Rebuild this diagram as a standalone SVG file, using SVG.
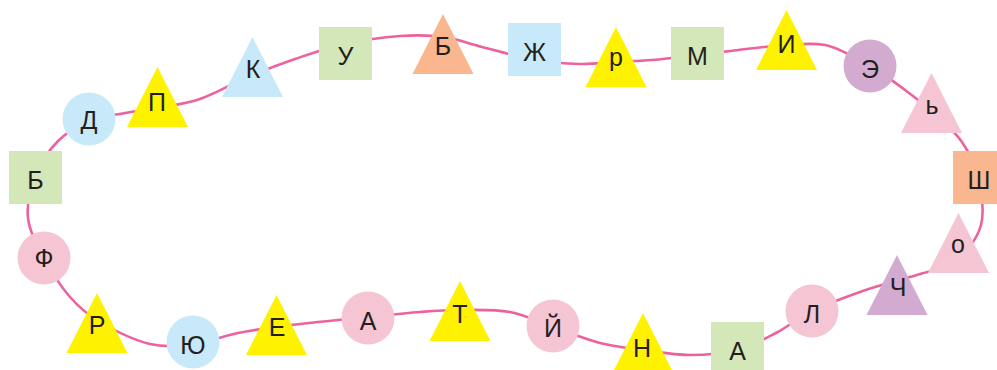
<svg xmlns="http://www.w3.org/2000/svg" width="997" height="370" viewBox="0 0 997 370">
<style>
.g{fill:#D4E7B9}.b{fill:#C8E9F9}.y{fill:#FFF200}.s{fill:#F9B68F}.p{fill:#F5C5D4}.v{fill:#D3ABD0}
text{font-family:"Liberation Sans",Arial,sans-serif;font-size:25px;fill:#231F20;text-anchor:middle}
.line{fill:none;stroke:#EE619F;stroke-width:2.6}
</style>
<rect width="997" height="370" fill="#FFFFFF"/>
<g id="connectors">
<path class="line" d="M35 177 C40 164.2 48.8 150.3 58 141 S78.8 125.7 90 121 S113.8 115.2 125 113 S144.5 110.3 157 108 S184.8 104.2 200 99 S232.2 83.7 248 77 S278.8 64.5 295 59 S327.5 47.8 345 44 S383.5 37.2 400 36 S430.3 35.2 444 37 S466.8 43.2 482 47 S518.7 57.2 535 60 S566.7 63.7 580 64 S603 62.7 615 62 S638.2 61.2 652 60 S682.3 56.8 698 55 S731.2 50.7 746 49 S773.8 45.7 787 45 S811.2 42.5 825 45 S856.7 58.5 870 66 S894 81.8 905 90 S926.5 106.3 936 115 S955 131.7 962 142 S974.8 163.2 978 177 S984.8 210.8 981 225 S965.2 253.8 955 262 S929.8 270.8 920 274 S906 278 896 281 S874 287 860 292 S826 304.2 812 311 S788.5 326.5 776 333 S751.3 346.3 737 350 S705.7 355 690 355 S658 352 643 350 S615 346.8 600 343 S568 332.2 553 327 S525.5 314.8 510 312 S475 310 460 310 S435.3 310.8 420 312 S385 315.3 368 317 S333.3 320.3 318 322 S289.3 325.2 276 327 S251.8 330.2 238 333 S207.7 342.2 193 344 S165.5 347.7 150 344 S113.3 329.8 100 322 S79.3 307.7 70 297 S51 271.2 44 258 S29.5 231.5 28 218 S30 189.8 35 177 Z"/>
</g>
<g id="n1"><rect class="g" x="9" y="151" width="53" height="53"/><text x="35.5" y="189">Б</text></g>
<g id="n2"><circle class="b" cx="89" cy="119" r="26.5"/><text x="89" y="129">Д</text></g>
<g id="n3"><polygon class="y" points="157.5,67 188,127 127,127"/><text x="157" y="111">П</text></g>
<g id="n4"><polygon class="b" points="252.5,37 283,97 222,97"/><text x="253" y="78">К</text></g>
<g id="n5"><rect class="g" x="319" y="27" width="53" height="53"/><text x="345.5" y="65">У</text></g>
<g id="n6"><polygon class="s" points="443,14 473.5,74 412.5,74"/><text x="443" y="55">Б</text></g>
<g id="n7"><rect class="b" x="508" y="23" width="53" height="53"/><text x="534.5" y="61">Ж</text></g>
<g id="n8"><polygon class="y" points="616,27 646.5,87 585.5,87"/><text x="616" y="66">р</text></g>
<g id="n9"><rect class="g" x="671" y="27" width="53" height="53"/><text x="697.5" y="65">М</text></g>
<g id="n10"><polygon class="y" points="786.5,10 817,70 756,70"/><text x="786.5" y="53">И</text></g>
<g id="n11"><circle class="v" cx="870" cy="66" r="26.5"/><text x="870" y="78">Э</text></g>
<g id="n12"><polygon class="p" points="931.5,73 962,133 901,133"/><text x="932" y="114">ь</text></g>
<g id="n13"><rect class="s" x="953" y="151" width="53" height="53"/><text x="979" y="189">Ш</text></g>
<g id="n14"><polygon class="p" points="958.5,213 989,273 928,273"/><text x="958" y="253">о</text></g>
<g id="n15"><polygon class="v" points="897,255 927.5,315 866.5,315"/><text x="898" y="296">Ч</text></g>
<g id="n16"><circle class="p" cx="812" cy="311" r="26.5"/><text x="812" y="323">Л</text></g>
<g id="n17"><rect class="g" x="711" y="322" width="53" height="53"/><text x="737.5" y="360">А</text></g>
<g id="n18"><polygon class="y" points="643,313 673.5,373 612.5,373"/><text x="642" y="357">Н</text></g>
<g id="n19"><circle class="p" cx="553" cy="326" r="26.5"/><text x="553" y="337">Й</text></g>
<g id="n20"><polygon class="y" points="460,281 490.5,341 429.5,341"/><text x="460" y="323">Т</text></g>
<g id="n21"><circle class="p" cx="368" cy="318" r="26.5"/><text x="368" y="330">А</text></g>
<g id="n22"><polygon class="y" points="276.5,295 307,355 246,355"/><text x="277" y="336">Е</text></g>
<g id="n23"><circle class="b" cx="193" cy="342" r="26.5"/><text x="193" y="354">Ю</text></g>
<g id="n24"><polygon class="y" points="97,293 127.5,353 66.5,353"/><text x="97" y="334">Р</text></g>
<g id="n25"><circle class="p" cx="44" cy="258" r="26.5"/><text x="44" y="267">Ф</text></g>
</svg>
